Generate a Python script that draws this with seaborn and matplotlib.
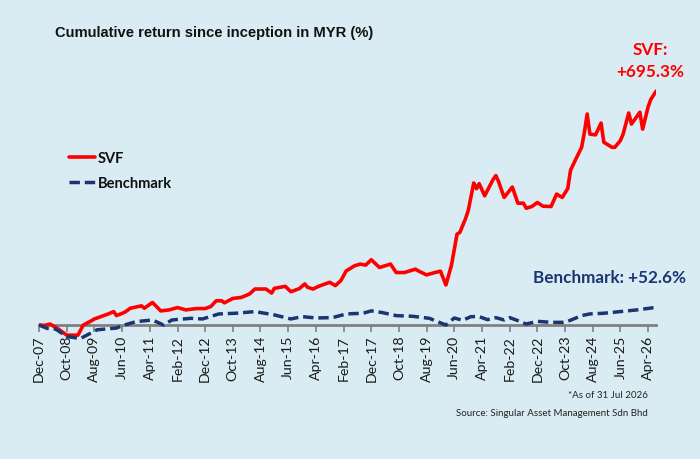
import matplotlib
matplotlib.use("Agg")
import matplotlib.pyplot as plt
import seaborn as sns
import pandas as pd

# ---- data ----
svf_dates = ["2007-12","2008-02","2008-04","2008-07","2008-10","2009-02","2009-04","2009-07","2009-08","2010-01",
             "2010-03","2010-04","2010-07","2010-09","2011-01","2011-02","2011-05","2011-08","2011-11","2012-02",
             "2012-05","2012-09","2012-12","2013-02","2013-04","2013-06","2013-07","2013-10","2014-01","2014-04",
             "2014-06","2014-10","2014-12","2015-01","2015-05","2015-07","2015-10","2015-12","2016-01","2016-03",
             "2016-05","2016-09","2016-11","2017-01","2017-03","2017-06","2017-08","2017-10","2017-12","2018-03",
             "2018-07","2018-09","2018-12","2019-04","2019-05","2019-08","2019-11","2020-01","2020-03","2020-05",
             "2020-07","2020-08","2020-10","2020-11","2021-01","2021-02","2021-03","2021-05","2021-08","2021-09",
             "2021-10","2021-12","2022-03","2022-05","2022-07","2022-08","2022-10","2022-12","2023-02","2023-05",
             "2023-07","2023-09","2023-11","2023-12","2024-02","2024-04","2024-05","2024-06","2024-07","2024-09",
             "2024-11","2024-12","2025-03","2025-04","2025-06","2025-07","2025-09","2025-10","2026-01","2026-02",
             "2026-04","2026-05","2026-07"]
svf_values = [0, -1, 3, -12, -30, -30, 0, 13, 18, 33,
              40, 28, 38, 50, 57, 50, 67, 42, 45, 52,
              45, 49, 49, 55, 72, 72, 66, 79, 82, 92,
              107, 107, 95, 109, 115, 99, 108, 122, 112, 107,
              115, 127, 117, 132, 161, 176, 181, 178, 194, 171,
              181, 156, 156, 166, 161, 149, 156, 160, 119, 178,
              270, 275, 315, 340, 422, 405, 420, 384, 432, 444,
              426, 379, 410, 362, 362, 347, 352, 364, 353, 352,
              389, 379, 406, 460, 495, 528, 572, 627, 567, 565,
              600, 543, 528, 528, 548, 567, 630, 597, 632, 582,
              647, 670, 695.3]

bm_dates = ["2007-12","2008-03","2008-06","2008-10","2009-03","2009-06","2009-09","2010-04","2010-06","2010-11",
            "2011-05","2011-09","2011-12","2012-07","2012-11","2013-05","2013-11","2014-06","2015-01","2015-07",
            "2015-11","2016-04","2016-10","2017-03","2017-09","2017-12","2018-04","2018-09","2019-03","2019-09",
            "2020-03","2020-06","2020-09","2020-12","2021-03","2021-06","2021-09","2021-12","2022-02","2022-05",
            "2022-08","2022-12","2023-05","2023-09","2023-11","2024-04","2024-07","2024-12","2025-06","2025-12",
            "2026-07"]
bm_values = [0, -10, -12, -34, -40, -27, -14, -9, -2, 10,
             15, 0, 15, 20, 18, 33, 35, 40, 30, 18,
             25, 21, 22, 33, 35, 42, 37, 28, 26, 20,
             0, 21, 14, 25, 25, 16, 22, 15, 22, 13,
             3, 11, 8, 8, 11, 28, 33, 35, 40, 45,
             52.6]

tick_labels = ["Dec-07","Oct-08","Aug-09","Jun-10","Apr-11","Feb-12","Dec-12","Oct-13","Aug-14","Jun-15",
               "Apr-16","Feb-17","Dec-17","Oct-18","Aug-19","Jun-20","Apr-21","Feb-22","Dec-22","Oct-23",
               "Aug-24","Jun-25","Apr-26"]

title = "Cumulative return since inception in MYR (%)"
svf_label = "SVF:\n+695.3%"
bm_label = "Benchmark: +52.6%"
note1 = "*As of 31 Jul 2026"
note2 = "Source: Singular Asset Management Sdn Bhd"

# ---- style ----
BG = "#daecf3"
RED = "#ff0000"
NAVY = "#1a3570"
sns.set_theme(style="white")
plt.rcParams["font.family"] = ["Lato", "DejaVu Sans"]

svf_df = pd.DataFrame({"date": pd.to_datetime(svf_dates), "value": svf_values})
bm_df = pd.DataFrame({"date": pd.to_datetime(bm_dates), "value": bm_values})

W, H = 700, 460
fig = plt.figure(figsize=(W / 100, H / 100), dpi=100, facecolor=BG)
left, right = 39, 656.3
ax = fig.add_axes([left / W, (H - 359.7) / H, (right - left) / W, (359.7 - 60.1) / H])
ax.set_facecolor(BG)

sns.lineplot(data=svf_df, x="date", y="value", ax=ax, color=RED, lw=2.6, label="SVF")
sns.lineplot(data=bm_df, x="date", y="value", ax=ax, color=NAVY, lw=2.5, label="Benchmark",
             dashes=False)
ax.lines[1].set_dashes((3.0, 1.4))
ax.lines[1].set_dash_capstyle("butt")

ax.set_xlim(pd.Timestamp("2007-12-01"), pd.Timestamp("2026-07-01"))
ax.set_ylim(-100, 790)
ax.set_xlabel("")
ax.set_ylabel("")
ax.set_yticks([])

for s in ["left", "right", "top"]:
    ax.spines[s].set_visible(False)
ax.spines["bottom"].set_position(("data", 0))
ax.spines["bottom"].set_color("#808080")
ax.spines["bottom"].set_linewidth(2)
ax.spines["bottom"].set_zorder(1)

ticks = pd.to_datetime(tick_labels, format="%b-%y")
ax.set_xticks(ticks)
ax.set_xticklabels(tick_labels, rotation=90, fontsize=10.2, color="#1a1a1a")
ax.tick_params(axis="x", direction="out", length=5, width=1.2, color="#808080", pad=2, bottom=True)

leg = ax.legend(loc="upper left", bbox_to_anchor=(56 / W, 1 - 139 / H), bbox_transform=fig.transFigure,
                frameon=False, prop={"family": ["Lato"], "weight": "bold", "size": 10.5},
                handlelength=1.75, handletextpad=0.2, labelspacing=0.75)
for t in leg.get_texts():
    t.set_color("#111111")

fig.text(55 / W, 1 - 33 / H, title, fontsize=10.6, fontweight="bold", family=["Liberation Sans"],
         ha="left", va="center", color="#111111")
fig.text(650 / W, 1 - 61 / H, svf_label, fontsize=12.3, fontweight="bold", color=RED,
         ha="center", va="center", linespacing=1.4)
fig.text(609.5 / W, 1 - 278 / H, bm_label, fontsize=12.3, fontweight="bold", color=NAVY,
         ha="center", va="center")
fig.text(648 / W, 1 - 395 / H, note1, fontsize=7, color="#222222", ha="right", va="center")
fig.text(648 / W, 1 - 414 / H, note2, fontsize=7, color="#222222", ha="right", va="center")

fig.savefig("out.png", dpi=100, facecolor=BG)
